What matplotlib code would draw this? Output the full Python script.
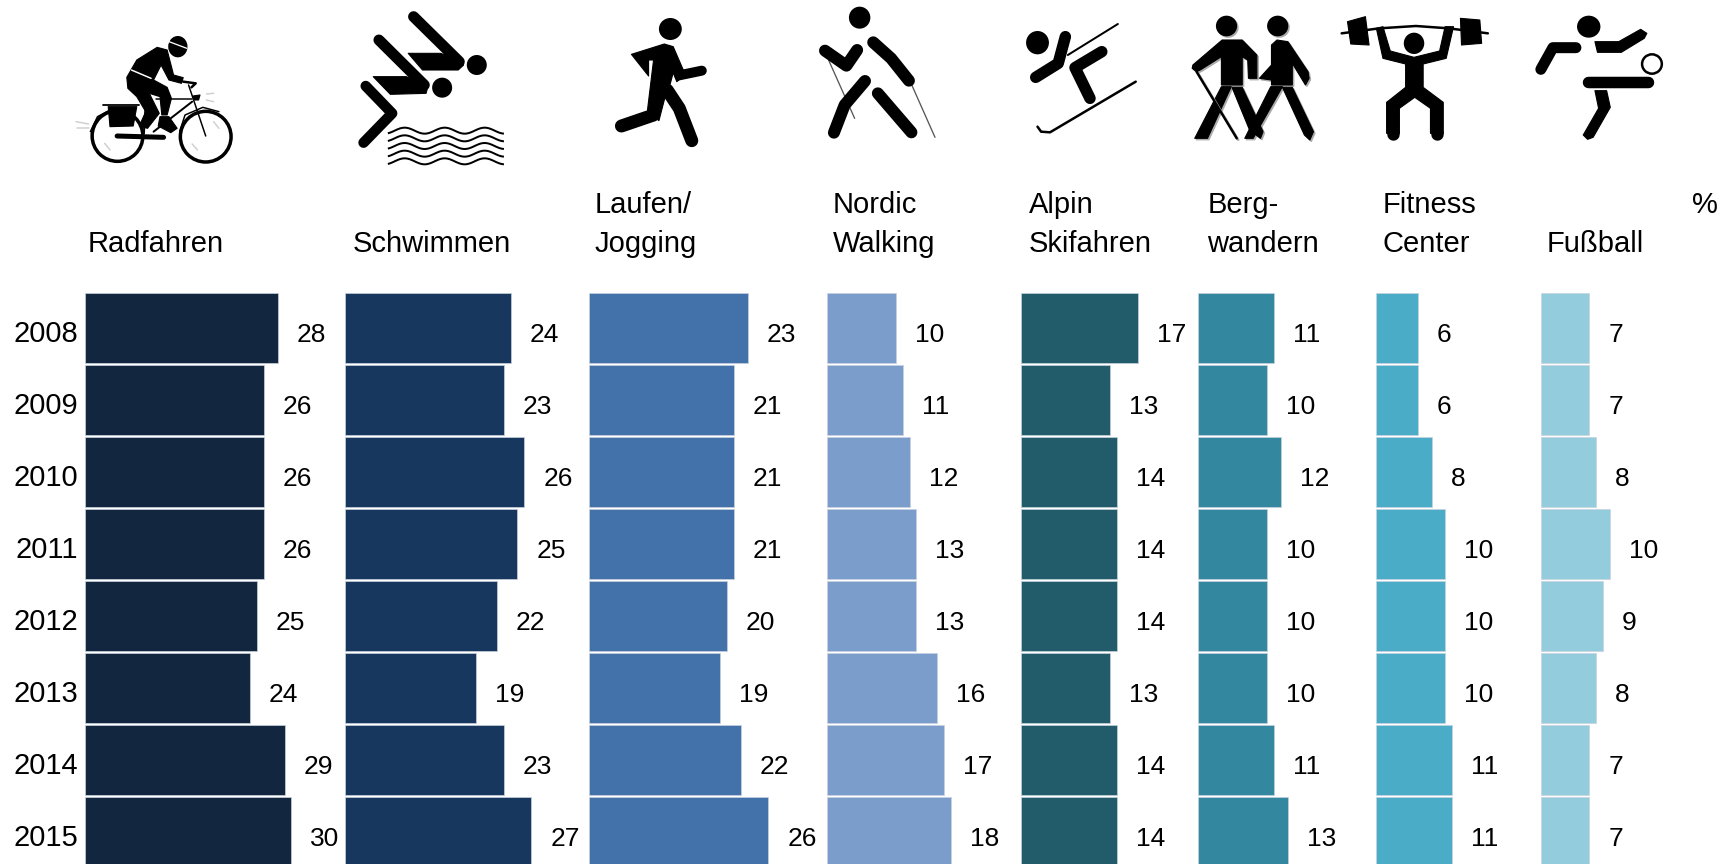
import numpy as np
import matplotlib
matplotlib.use('Agg')
import matplotlib.pyplot as plt
from matplotlib.patches import Polygon, Ellipse
from matplotlib.transforms import ScaledTranslation

plt.rcParams['font.family'] = ['Liberation Sans', 'DejaVu Sans']

# Daten
jahre = ['2008', '2009', '2010', '2011', '2012', '2013', '2014', '2015']
radfahren = [28, 26, 26, 26, 25, 24, 29, 30]
schwimmen = [24, 23, 26, 25, 22, 19, 23, 27]
laufen = [23, 21, 21, 21, 20, 19, 22, 26]
nordic = [10, 11, 12, 13, 13, 16, 17, 18]
alpin = [17, 13, 14, 14, 14, 13, 14, 14]
berg = [11, 10, 12, 10, 10, 10, 11, 13]
fitness = [6, 6, 8, 10, 10, 10, 11, 11]
fussball = [7, 7, 8, 10, 9, 8, 7, 7]

serien = [radfahren, schwimmen, laufen, nordic, alpin, berg, fitness, fussball]
farben = ['#12263F', '#18375E', '#4371A9', '#7A9DCB', '#225B6A', '#33879F', '#4BACC7', '#93CDDD']
titel = ['Radfahren', 'Schwimmen', 'Laufen/\nJogging', 'Nordic\nWalking', 'Alpin\nSkifahren',
         'Berg-\nwandern', 'Fitness\nCenter', 'Fußball']

W, H = 1733, 864
fig = plt.figure(figsize=(W / 100, H / 100), dpi=100)
fig.patch.set_facecolor('white')

# Spalten: linker Rand in Pixel, Titel-x in Pixel
links = [85, 345.5, 589.5, 827, 1021, 1198.5, 1376.5, 1541]
titel_x = [88, 352.5, 594.5, 832.5, 1029, 1207.5, 1382.5, 1547]
px_pro_einheit = 6.88
oben = 291.5


def px(v):
    return v * 0.72


for i, werte in enumerate(serien):
    breite = 240
    ax = fig.add_axes([links[i] / W, 0, breite / W, (H - oben) / H])
    ax.barh(range(8), werte, height=70 / 72, color=farben[i], edgecolor='#C8D2DE', linewidth=0.5)
    ax.set_xlim(0, breite / px_pro_einheit)
    ax.set_ylim(-0.5 + (H - oben) / 72, -0.5)
    for s in ax.spines.values():
        s.set_visible(False)
    ax.set_xticks([])
    ax.patch.set_alpha(0)
    if i == 0:
        ax.set_yticks(range(8))
        ax.set_yticklabels(jahre, fontsize=21, color='black')
        ax.tick_params(axis='y', length=0, pad=5)
        runter = ScaledTranslation(0, -3.2 / 100, fig.dpi_scale_trans)
        for lab in ax.get_yticklabels():
            lab.set_transform(lab.get_transform() + runter)
    else:
        ax.set_yticks([])
    for j, v in enumerate(werte):
        ax.annotate(str(v), (v, j), xytext=(px(19), px(-7)), textcoords='offset points',
                    ha='left', va='center', fontsize=19, color='black', annotation_clip=False)
    fig.text(titel_x[i] / W, 1 - 252 / H, titel[i], fontsize=21, ha='left', va='baseline',
             linespacing=1.5, color='black')

fig.text(1705 / W, 1 - 213 / H, '%', fontsize=21, ha='center', va='baseline', color='black')

# Piktogramme, Koordinaten in Bildpixeln
ic = fig.add_axes([0, 0, 1, 1], zorder=5)
ic.set_xlim(0, W)
ic.set_ylim(H, 0)
ic.axis('off')


def umrechnen(pts, x0, sx):
    return [(x0 + x / sx, y / 3) for x, y in pts]


def strich(pts, x0, sx, w, col='black', cap='round'):
    p = umrechnen(pts, x0, sx)
    ic.plot([a for a, b in p], [b for a, b in p], color=col, lw=px(w), solid_capstyle=cap,
            solid_joinstyle='round')


def flaeche(pts, x0, sx, col='black'):
    ic.add_patch(Polygon(umrechnen(pts, x0, sx), closed=True, fc=col, ec=col, lw=0.8, joinstyle='round'))


def kopf(x, y, rx, ry, x0, sx, fc='black', ec='none', lw=0):
    ic.add_patch(Ellipse((x0 + x / sx, y / 3), 2 * rx / sx, 2 * ry / 3, fc=fc, ec=ec, lw=lw))


# Radfahrer
a, s = 60, 2.8
for cx, cy in [(161, 408), (408, 410)]:
    kopf(cx, cy, 71, 76, a, s, fc='none', ec='black', lw=px(3.5))
for pts in [[(45, 365), (80, 372)], [(48, 385), (80, 385)], [(410, 282), (430, 280)], [(410, 300), (430, 305)],
            [(125, 430), (140, 450)], [(370, 432), (385, 450)], [(430, 365), (445, 385)]]:
    strich(pts, a, s, 1.5, col='#D0D0D0')
kopf(330, 140, 27, 32, a, s)
strich([(298, 122), (355, 145)], a, s, 1.3, col='white')
flaeche([(272, 142), (300, 150), (318, 225), (345, 233), (340, 250), (305, 240), (283, 195), (262, 240), (300, 262),
         (312, 295), (300, 345), (285, 345), (280, 290), (250, 280), (278, 340), (245, 385), (222, 378), (240, 335),
         (215, 290), (190, 265), (187, 232), (215, 180)], a, s)
strich([(200, 210), (255, 235)], a, s, 1.5, col='white')
flaeche([(280, 350), (305, 350), (328, 385), (310, 398), (275, 378)], a, s)
flaeche([(135, 320), (215, 320), (205, 378), (140, 380)], a, s)
strich([(120, 315), (222, 315)], a, s, 1.8)
strich([(160, 408), (290, 412)], a, s, 5)
strich([(270, 297), (370, 297)], a, s, 1.5)
strich([(370, 305), (262, 395)], a, s, 2)
strich([(360, 255), (408, 408)], a, s, 1.5)
strich([(240, 310), (235, 400)], a, s, 2)
strich([(345, 245), (380, 250), (368, 262)], a, s, 2.5)
flaeche([(372, 288), (392, 285), (388, 300), (375, 300)], a, s)
strich([(85, 395), (105, 350), (140, 330)], a, s, 1.5)
strich([(335, 395), (350, 345), (400, 322), (445, 335)], a, s, 1.5)

# Schwimmer
strich([(990, 50), (1118, 185)], a, s, 11)
flaeche([(975, 160), (1065, 160), (1125, 180), (1130, 195), (1115, 210), (1015, 210)], a, s)
kopf(1167, 195, 28, 30, a, s)
strich([(893, 120), (1020, 255)], a, s, 11)
flaeche([(877, 230), (970, 230), (1030, 260), (1025, 280), (925, 283)], a, s)
kopf(1070, 263, 28, 30, a, s)
strich([(856, 258), (930, 340), (850, 428)], a, s, 10.5)
wx = np.linspace(918, 1243, 80)
for k in range(5):
    wy = 392 + k * 23 - 9 * np.cos((wx - 965) / 112 * 2 * np.pi)
    strich(list(zip(wx, wy)), a, s, 2, cap='butt')

# Läufer
a, s = 600, 2.8
kopf(197, 87, 32, 33, a, s)
flaeche([(88, 163), (180, 132), (205, 140), (232, 207), (240, 225), (215, 245), (205, 218), (197, 250), (180, 300),
         (165, 362), (133, 330), (150, 180), (136, 180), (136, 228)], a, s)
strich([(222, 226), (285, 212)], a, s, 10)
strich([(150, 345), (60, 378)], a, s, 13)
strich([(188, 270), (222, 325), (257, 422)], a, s, 13)

# Nordic Walking
kopf(727, 53, 30, 33, a, s)
strich([(640, 180), (713, 355)], a, s, 1.3, col='#555555')
strich([(873, 255), (938, 412)], a, s, 1.3, col='#555555')
strich([(630, 152), (690, 197), (720, 150)], a, s, 12)
strich([(765, 127), (815, 175), (865, 242)], a, s, 12)
strich([(742, 243), (685, 315), (655, 398)], a, s, 12)
strich([(778, 280), (872, 397)], a, s, 12)

# Skifahrer
kopf(1225, 128, 32, 35, a, s)
strich([(1310, 165), (1450, 72)], a, s, 2)
strich([(1303, 110), (1283, 190), (1220, 232)], a, s, 11.5)
strich([(1405, 155), (1330, 203), (1372, 295)], a, s, 11.5)
strich([(1225, 380), (1235, 395), (1260, 397), (1500, 245)], a, s, 2.5)

# Bergwandern
a, s = 1160, 2.736
for dx, col in [(1.5, '#AAAAAA'), (0, 'black')]:
    d = dx * s
    e = dx * 3
    kopf(182 + d, 78 + e, 29, 31, a, s, fc=col)
    kopf(322 + d, 78 + e, 29, 31, a, s, fc=col)
    flaeche([(x + d, y + e) for x, y in [(170, 120), (225, 120), (265, 165), (265, 235), (242, 235), (240, 180),
                                         (225, 170), (225, 255), (168, 255), (168, 170), (110, 210), (100, 215),
                                         (88, 205), (90, 195)]], a, s, col=col)
    flaeche([(x + d, y + e) for x, y in [(168, 260), (195, 260), (130, 415), (95, 415)]], a, s, col=col)
    flaeche([(x + d, y + e) for x, y in [(197, 262), (225, 262), (282, 395), (275, 415), (245, 390)]], a, s, col=col)
    strich([(100 + d, 215 + e), (210 + d, 415 + e)], a, s, 2.5, col=col)
    flaeche([(x + d, y + e) for x, y in [(305, 135), (320, 120), (350, 125), (405, 215), (408, 235), (398, 255),
                                         (362, 190), (362, 255), (305, 255), (305, 240), (272, 235), (305, 195)]],
            a, s, col=col)
    flaeche([(x + d, y + e) for x, y in [(303, 260), (335, 260), (255, 415), (232, 415)]], a, s, col=col)
    flaeche([(x + d, y + e) for x, y in [(335, 262), (362, 262), (420, 395), (410, 420), (395, 405)]], a, s, col=col)

# Fitness
kopf(695, 130, 28, 32, a, s)
strich([(497, 100), (600, 85), (700, 78), (790, 85), (897, 100)], a, s, 2.5)
flaeche([(513, 65), (562, 50), (572, 135), (522, 132)], a, s)
flaeche([(822, 55), (875, 60), (880, 130), (825, 135)], a, s)
flaeche([(592, 85), (610, 80), (630, 153), (695, 172), (765, 153), (780, 80), (803, 80), (783, 175), (720, 192),
         (720, 262), (775, 307), (775, 400), (740, 400), (740, 325), (697, 292), (655, 325), (655, 400),
         (620, 400), (620, 307), (672, 262), (672, 192), (610, 175)], a, s)
strich([(637, 400), (637, 402)], a, s, 12.5)
strich([(757, 400), (757, 402)], a, s, 12.5)

# Fußball
kopf(1173, 80, 32, 33, a, s)
strich([(1138, 143), (1075, 143), (1042, 208)], a, s, 11)
flaeche([(1190, 125), (1255, 125), (1315, 88), (1332, 100), (1325, 115), (1262, 157), (1197, 157)], a, s)
strich([(1170, 245), (1335, 245)], a, s, 11.5)
flaeche([(1190, 272), (1222, 272), (1232, 322), (1185, 412), (1170, 418), (1158, 405), (1200, 325)], a, s)
kopf(1346, 192, 27, 29, a, s, fc='none', ec='black', lw=px(2.5))

fig.savefig('out.png', dpi=100)
